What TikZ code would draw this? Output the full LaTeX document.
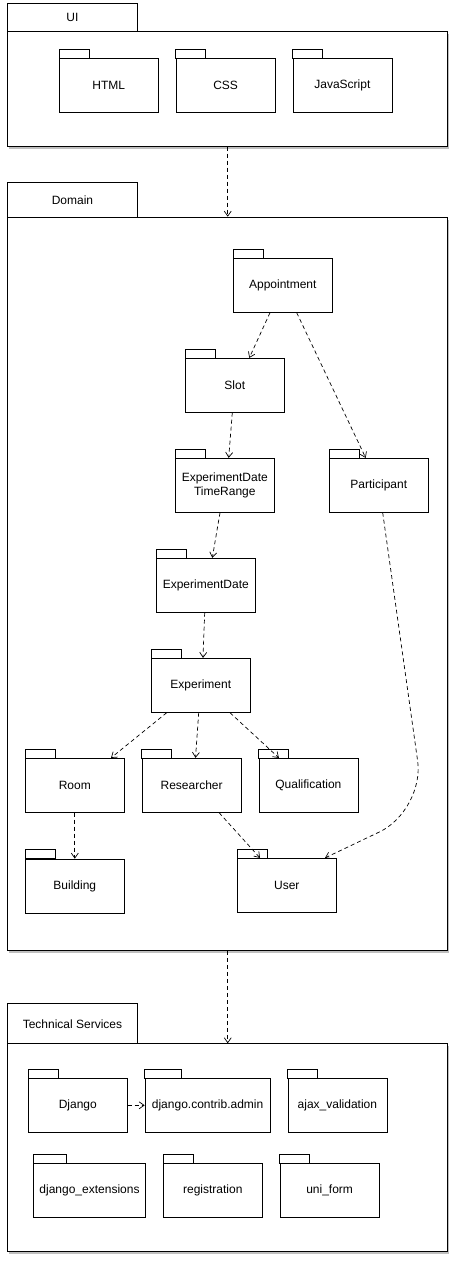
\documentclass[tikz,border=0pt]{standalone}
\usepackage{fontspec}
\setmainfont{Liberation Sans}
\usetikzlibrary{arrows.meta, positioning, calc, shadows}

\begin{document}
\begin{tikzpicture}[
    x=1pt, y=-1pt,
    node distance=17pt,
    font=\fontsize{12}{14}\selectfont,
    box/.style={rectangle, draw, line width=0.9pt, fill=white, anchor=north west, inner sep=0pt,
      drop shadow={shadow xshift=1pt, shadow yshift=-2.5pt, opacity=0.25, fill=black}},
    pkg/.style={rectangle, draw, line width=0.8pt, fill=white, minimum width=99pt, minimum height=54pt,
      align=center, inner sep=0pt,
      append after command={\pgfextra{\draw[line width=0.8pt] (\tikzlastnode.north west) rectangle ++(#1,9pt);}}},
    pkg/.default=30pt,
    dep/.style={-{Straight Barb[length=5pt, width=7pt]}, line width=0.7pt, dash pattern=on 4pt off 3pt}
  ]
    \path[fill=white, use as bounding box] (0,0) rectangle (456,1264);

    % layers
    \node[box, minimum width=129.4pt, minimum height=27.4pt] (uitab) at (7.3,3.3) {UI};
    \node[box, minimum width=440pt, minimum height=115pt] (ui) at (7.3,30.7) {};
    \node[box, minimum width=129.4pt, minimum height=34.4pt] (domaintab) at (7.3,182.3) {Domain};
    \node[box, minimum width=440pt, minimum height=733.3pt] (domain) at (7.3,216.7) {};
    \node[box, minimum width=129.4pt, minimum height=40pt] (tstab) at (7.3,1003.3) {Technical Services};
    \node[box, minimum width=440pt, minimum height=207.7pt] (ts) at (7.3,1043.3) {};

    % UI
    \node[pkg] (html) at (108.8,85.3) {HTML};
    \node[pkg, right=of html] (css) {CSS};
    \node[pkg, right=of css] (js) {JavaScript};

    % Domain
    \node[pkg] (appointment) at (282.8,285.3) {Appointment};
    \node[pkg] (slot) at (234.8,385.3) {Slot};
    \node[pkg] (edtr) at (224.8,485.3) {ExperimentDate\\TimeRange};
    \node[pkg] (participant) at (378.8,485.3) {Participant};
    \node[pkg] (expdate) at (205.8,585.3) {ExperimentDate};
    \node[pkg] (experiment) at (200.8,685.3) {Experiment};
    \node[pkg] (room) at (74.8,785.3) {Room};
    \node[pkg, right=of room] (researcher) {Researcher};
    \node[pkg, right=of researcher] (qualification) {Qualification};
    \node[pkg, below=46pt of room] (building) {Building};
    \node[pkg] (user) at (286.8,885.3) {User};
    \coordinate (bend) at (424.6,810.4);

    % Technical Services
    \node[pkg] (django) at (77.8,1105.3) {Django};
    \node[pkg=37pt, minimum width=125pt, right=of django] (admin) {django.contrib.admin};
    \node[pkg, right=of admin] (ajax) {ajax\_validation};
    \node[pkg=33pt, minimum width=112pt] (extensions) at (89.5,1190.3) {django\_extensions};
    \node[pkg, right=of extensions] (registration) {registration};
    \node[pkg, right=of registration] (uniform) {uni\_form};

    % dependencies
    \draw[dep] (ui) -- (domain);
    \draw[dep] (domain) -- (ts);
    \draw[dep] ($(appointment.south)+(-12.8,0)$) -- ($(slot.north)+(14.5,0)$);
    \draw[dep] ($(appointment.south)+(13.9,0)$) -- ($(participant.north)+(-13.1,0)$);
    \draw[dep] ($(slot.south)+(-2.5,0)$) -- ($(edtr.north)+(3.9,0)$);
    \draw[dep] ($(edtr.south)+(-4.8,0)$) -- ($(expdate.north)+(6.5,0)$);
    \draw[dep] ($(expdate.south)+(-1.1,0)$) -- ($(experiment.north)+(2.2,0)$);
    \draw[dep] ($(experiment.south)+(-34.1,0)$) -- ($(room.north)+(36.2,0)$);
    \draw[dep] ($(experiment.south)+(-2.1,0)$) -- ($(researcher.north)+(3.9,0)$);
    \draw[dep] ($(experiment.south)+(29.2,0)$) -- ($(qualification.north)+(-29.5,0)$);
    \draw[dep] (room) -- (building);
    \draw[dep] ($(researcher.south)+(27.5,0)$) -- ($(user.north)+(-26.8,0)$);
    \draw[dep, rounded corners=50pt] ($(participant.south)+(3.9,0)$) -- (bend) -- ($(user.north)+(38.2,0)$);
    \draw[dep] (django) -- (admin);
  \end{tikzpicture}
\end{document}
